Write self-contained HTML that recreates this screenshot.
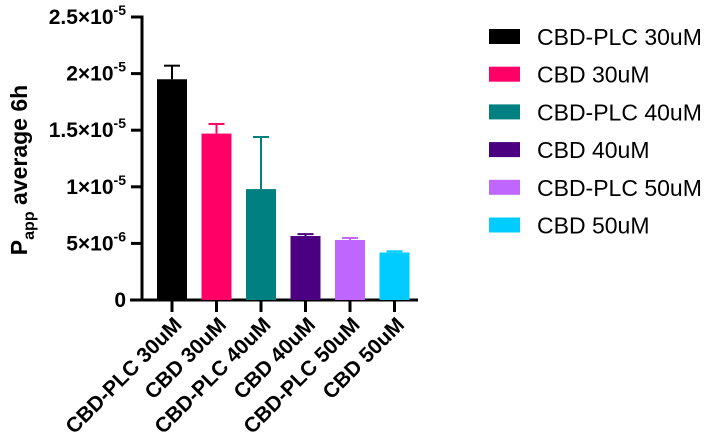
<!DOCTYPE html>
<html><head><meta charset="utf-8"><style>
body{margin:0;background:#fff;}
svg{display:block;font-family:"Liberation Sans",Arial,sans-serif;}
</style></head><body>
<svg id="chart" width="713" height="447"></svg>
<script>
const categories=["CBD-PLC 30uM","CBD 30uM","CBD-PLC 40uM","CBD 40uM","CBD-PLC 50uM","CBD 50uM"];
const means=[1.95e-5,1.47e-5,0.98e-5,5.65e-6,5.3e-6,4.2e-6];
const errors=[0.12e-5,0.085e-5,0.46e-5,0.17e-6,0.18e-6,0.1e-6];
const colors=["#000000","#ff0066","#008080","#4b0082","#bf66ff","#00ccff"];
const yTicks=[0,5e-6,1e-5,1.5e-5,2e-5,2.5e-5];
const yTickLabels=[["0",""],["5×10","-6"],["1×10","-5"],["1.5×10","-5"],["2×10","-5"],["2.5×10","-5"]];
const NS="http://www.w3.org/2000/svg";
const svg=document.getElementById('chart');
function mk(t,a,p){const e=document.createElementNS(NS,t);for(const k in a)e.setAttribute(k,a[k]);(p||svg).appendChild(e);return e;}
const y0=300,yTop=17,yMax=2.5e-5;
function yS(v){return y0-(v/yMax)*(y0-yTop);}
function xS(i){return 172+i*44.5;}
const bw=30;
let ax=mk('line',{x1:142,y1:y0,x2:142,y2:yTop-1.5,stroke:'#000','stroke-width':3});

let bx=mk('line',{x1:130,y1:y0,x2:418,y2:y0,stroke:'#000','stroke-width':3});

yTicks.forEach((v,i)=>{
  const y=yS(v);
  mk('line',{x1:131,y1:y,x2:142,y2:y,stroke:'#000','stroke-width':3});
  const t=mk('text',{x:126,y:y+7,'text-anchor':'end','font-size':21,'font-weight':'bold'});
  
  
  t.textContent=yTickLabels[i][0];
  if(yTickLabels[i][1]){const s=mk('tspan',{dy:-9,'font-size':14},t);s.textContent=yTickLabels[i][1];}
});
categories.forEach((c,i)=>{
  const cx=xS(i),top=yS(means[i]),et=yS(means[i]+errors[i]);
  const r=mk('rect',{x:cx-bw/2,y:top,width:bw,height:y0-top,fill:colors[i]});
  
  
  mk('line',{x1:cx,y1:top,x2:cx,y2:et,stroke:colors[i],'stroke-width':2});
  mk('line',{x1:cx-8,y1:et,x2:cx+8,y2:et,stroke:colors[i],'stroke-width':2});
  mk('line',{x1:cx,y1:y0,x2:cx,y2:312,stroke:'#000','stroke-width':3});
  const t=mk('text',{x:cx+11,y:326,'text-anchor':'end','font-size':21,'font-weight':'bold',transform:`rotate(-45 ${cx+11} 326)`});
  
  
  t.textContent=c;
  const ly=29+i*37.7;
  const sw=mk('rect',{x:489,y:ly,width:31,height:15,fill:colors[i]});
  
  
  const lt=mk('text',{x:537,y:ly+16,'font-size':23});
  
  
  lt.textContent=c;
});
const yt=mk('text',{x:27,y:170,'text-anchor':'middle','font-size':23,'font-weight':'bold',transform:'rotate(-90 27 170)'});


yt.appendChild(document.createTextNode('P'));
const sub=mk('tspan',{dy:7,'font-size':16},yt);sub.textContent='app';
const rest=mk('tspan',{dy:-7},yt);rest.textContent=' average 6h';
</script>
</body></html>
